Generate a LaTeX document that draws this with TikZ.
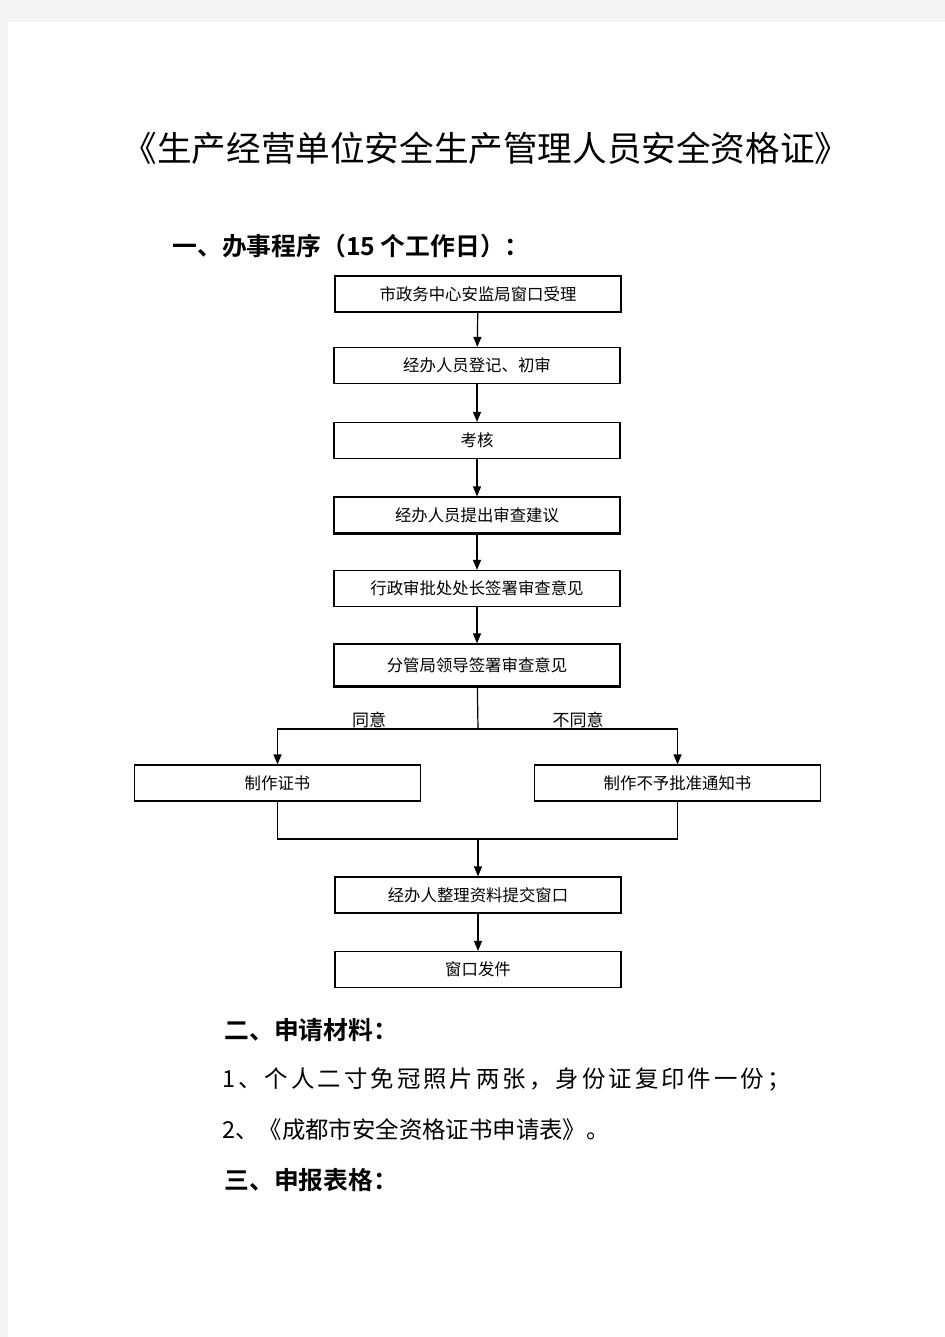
\documentclass[tikz,border=0pt]{standalone}
\usepackage{fontspec}
\setmainfont{Noto Sans CJK SC}[BoldFont={Noto Sans CJK SC Bold}]
\usetikzlibrary{arrows.meta}
\definecolor{pagegray}{RGB}{244,244,244}

\begin{document}
\begin{tikzpicture}[x=0.5pt, y=-0.5pt, >={Triangle[width=4pt,length=5pt]},
box/.style={draw, line width=.6pt, minimum width=143pt, minimum height=18pt, inner sep=0, font=\fontsize{8.2pt}{10pt}\selectfont},
flow/.style={->, line width=.6pt},
link/.style={line width=.6pt},
heavy/.style={line width=1.2pt},
choice/.style={inner sep=0, font=\fontsize{8.5pt}{10pt}\selectfont},
heading/.style={anchor=west, inner sep=0, font=\fontsize{12.4pt}{14pt}\selectfont\bfseries},
item/.style={anchor=west, inner sep=0, font=\fontsize{11.7pt}{14pt}\selectfont},
]

%%%%%%%%%%%% SIZE OF THE PAGE
\useasboundingbox (0,0) rectangle (945,1337);
\fill[pagegray] (0,0) rectangle (945,1337);
\fill[white] (8,22) rectangle (945,1337);

%%%%%%%%%%%%%%%%%%%%%%%% TITLE %%%%%%%%%%%%%%%%%%%%%%%%%%%
\node[inner sep=0, font=\fontsize{17.3pt}{20pt}\selectfont] (Title) at (486,148) {《生产经营单位安全生产管理人员安全资格证》};
\node[heading] (StepsHead) at (172,246) {一、办事程序（15 个工作日）：};

%%%%%%%%%%%%%%%%%%%%%%%% BOXES %%%%%%%%%%%%%%%%%%%%%%%%%%%
\node[box] (Accept) at (478,294) {市政务中心安监局窗口受理};
\node[box] (Register) at (477,365.5) {经办人员登记、初审};
\node[box] (Exam) at (477,440.5) {考核};
\node[box] (Propose) at (477,515) {经办人员提出审查建议};
\node[box] (ChiefSign) at (477,588.5) {行政审批处处长签署审查意见};
\node[box, minimum height=21pt] (LeaderSign) at (477,665) {分管局领导签署审查意见};
\node[box] (Cert) at (277.5,783) {制作证书};
\node[box] (Notice) at (677.5,783) {制作不予批准通知书};
\node[box] (Collect) at (478,895) {经办人整理资料提交窗口};
\node[box] (Issue) at (478,969.5) {窗口发件};

% thicker bottom edges
\draw[heavy] (Propose.south west) -- (Propose.south east);
\draw[heavy] (LeaderSign.south west) -- (LeaderSign.south east);

%%%%%%%%%%%%%%%%%%%%%%%% ARROWS %%%%%%%%%%%%%%%%%%%%%%%%%%%
\draw[flow] (Accept) -- (Register);
\draw[flow] (Register) -- (Exam);
\draw[flow] (Exam) -- (Propose);
\draw[flow] (Propose) -- (ChiefSign);
\draw[flow] (ChiefSign) -- (LeaderSign);

\coordinate (Split) at (478,729);
\draw[link] (LeaderSign) -- (Split);
\draw[flow] (Split) -| (Cert);
\draw[flow] (Split) -| (Notice);
\node[choice] (Agree) at (369,720) {同意};
\node[choice] (Disagree) at (578,720) {不同意};

\coordinate (Merge) at (478,839);
\draw[link] (Cert) |- (Merge) -| (Notice);
\draw[heavy] (Cert.south |- Merge) -- (Notice.south |- Merge);
\draw[flow] (Merge) -- (Collect);
\draw[flow] (Collect) -- (Issue);

%%%%%%%%%%%%%%%%%%%%%%%% TEXT %%%%%%%%%%%%%%%%%%%%%%%%%%%
\node[heading] (MaterialHead) at (224,1030) {二、申请材料：};
\node[item] (ItemOne) at (222,1080) {\addfontfeatures{LetterSpace=13}1、个人二寸免冠照片两张，身份证复印件一份；};
\node[item] (ItemTwo) at (222,1130) {2、《成都市安全资格证书申请表》。};
\node[heading] (FormHead) at (224,1180) {三、申报表格：};

\end{tikzpicture}
\end{document}
